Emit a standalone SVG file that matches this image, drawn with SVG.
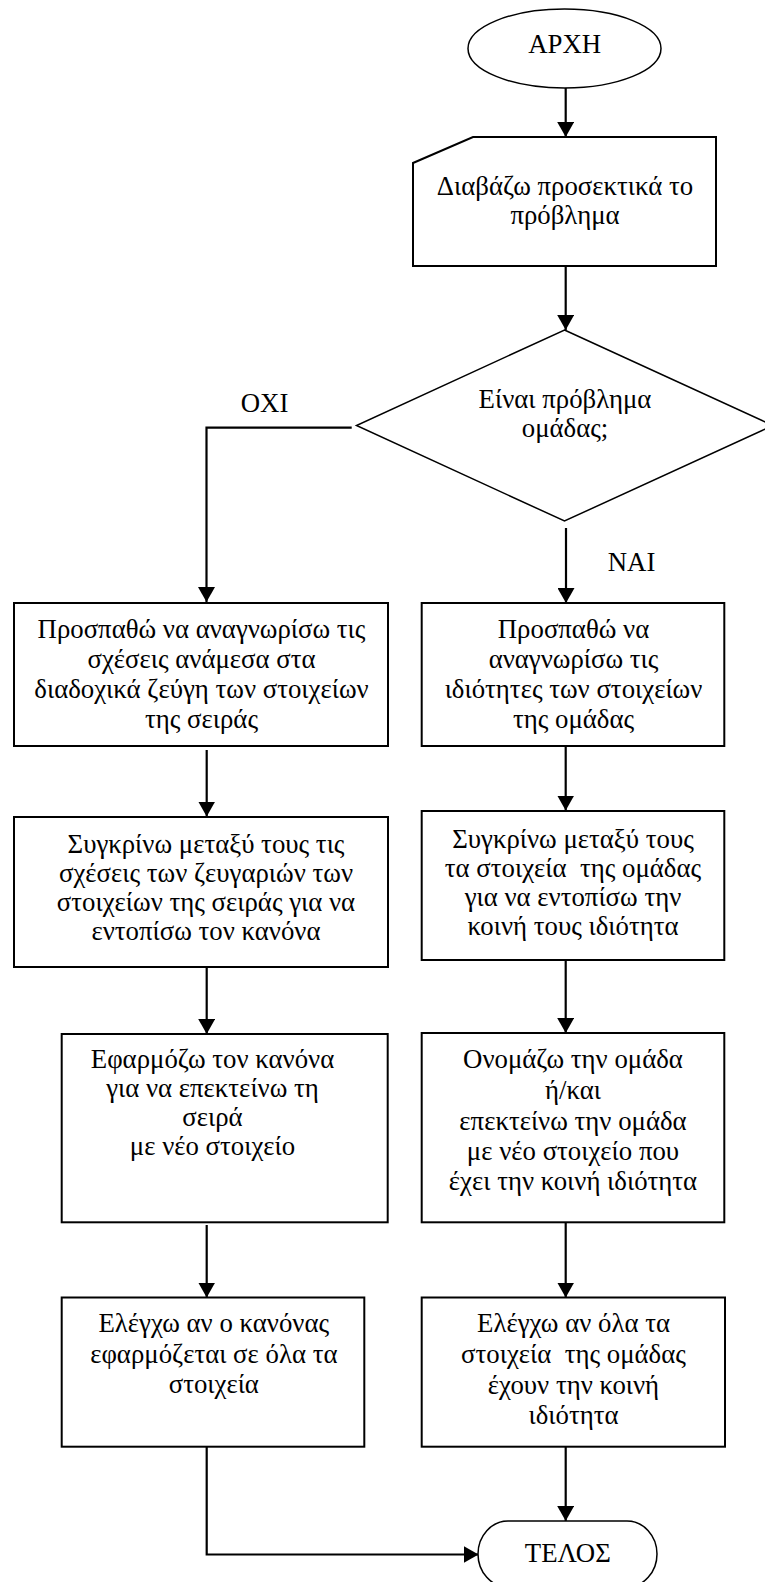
<svg xmlns="http://www.w3.org/2000/svg" width="765" height="1582" viewBox="0 0 765 1582">
  <style>
    .box { fill: #ffffff; stroke: #000000; stroke-width: 2; }
    .thin { fill: #ffffff; stroke: #000000; stroke-width: 1.5; }
    .wire { fill: none; stroke: #000000; stroke-width: 2.2; }
    .t { font-family: "Liberation Serif", "Times New Roman", serif; font-size: 26.8px; fill: #000000; text-anchor: middle; white-space: pre; }
  </style>
  <defs>
    <marker id="arrow" markerUnits="userSpaceOnUse" markerWidth="16" markerHeight="17" refX="15" refY="8.5" orient="auto">
      <path d="M0,0 L15,8.5 L0,17 Z" fill="#000000"/>
    </marker>
  </defs>

  <rect width="765" height="1582" fill="#ffffff"/>

  <!-- connectors -->
  <g id="connectors">
    <line class="wire" x1="565.7" y1="88" x2="565.7" y2="137" marker-end="url(#arrow)"/>
    <line class="wire" x1="565.7" y1="266" x2="565.7" y2="330" marker-end="url(#arrow)"/>
    <line class="wire" x1="566" y1="528" x2="566" y2="603" marker-end="url(#arrow)"/>
    <polyline class="wire" points="351.7,427.7 206.5,427.7 206.5,602" marker-end="url(#arrow)"/>
    <line class="wire" x1="206.7" y1="750" x2="206.7" y2="816.5" marker-end="url(#arrow)"/>
    <line class="wire" x1="565.7" y1="746" x2="565.7" y2="810.5" marker-end="url(#arrow)"/>
    <line class="wire" x1="206.7" y1="967" x2="206.7" y2="1034" marker-end="url(#arrow)"/>
    <line class="wire" x1="565.7" y1="960" x2="565.7" y2="1033" marker-end="url(#arrow)"/>
    <line class="wire" x1="206.7" y1="1225" x2="206.7" y2="1297.5" marker-end="url(#arrow)"/>
    <line class="wire" x1="565.7" y1="1222" x2="565.7" y2="1297.5" marker-end="url(#arrow)"/>
    <line class="wire" x1="565.7" y1="1447" x2="565.7" y2="1521" marker-end="url(#arrow)"/>
    <polyline class="wire" points="206.7,1444 206.7,1554.5 478.5,1554.5" marker-end="url(#arrow)"/>
    <text class="t" x="264.5" y="411.7">ΟΧΙ</text>
    <text class="t" x="631.5" y="570.7">ΝΑΙ</text>
  </g>

  <!-- start terminal -->
  <g id="start">
    <ellipse class="thin" cx="564.5" cy="48.5" rx="96.5" ry="39.5"/>
    <text class="t" x="564.7" y="53.3">ΑΡΧΗ</text>
  </g>

  <!-- manual input: read the problem -->
  <g id="read">
    <polygon class="box" points="473,137 716,137 716,266 413,266 413,163"/>
    <text class="t" x="565" y="195">Διαβάζω προσεκτικά το</text>
    <text class="t" x="565" y="223.5">πρόβλημα</text>
  </g>

  <!-- decision -->
  <g id="decision">
    <polygon class="thin" points="564.5,330 773,425.5 564.5,521 356.5,425.5"/>
    <text class="t" x="565" y="407.5">Είναι πρόβλημα</text>
    <text class="t" x="565" y="437">ομάδας;</text>
  </g>

  <!-- left branch: series -->
  <g id="series-relations">
    <rect class="box" x="14" y="603" width="374" height="143"/>
    <text class="t" x="201.5" y="637.5">Προσπαθώ να αναγνωρίσω τις</text>
    <text class="t" x="201.5" y="667.5">σχέσεις ανάμεσα στα</text>
    <text class="t" x="201.5" y="697.5">διαδοχικά ζεύγη των στοιχείων</text>
    <text class="t" x="201.5" y="727.5">της σειράς</text>
  </g>

  <g id="series-compare">
    <rect class="box" x="14" y="817" width="374" height="150"/>
    <text class="t" x="206" y="853">Συγκρίνω μεταξύ τους τις</text>
    <text class="t" x="206" y="882">σχέσεις των ζευγαριών των</text>
    <text class="t" x="206" y="911">στοιχείων της σειράς για να</text>
    <text class="t" x="206" y="940">εντοπίσω τον κανόνα</text>
  </g>

  <g id="series-extend">
    <rect class="box" x="61.7" y="1034" width="326" height="188.3"/>
    <text class="t" x="212.5" y="1068.3">Εφαρμόζω τον κανόνα</text>
    <text class="t" x="212.5" y="1097">για να επεκτείνω τη</text>
    <text class="t" x="212.5" y="1126">σειρά</text>
    <text class="t" x="212.5" y="1155">με νέο στοιχείο</text>
  </g>

  <g id="series-check">
    <rect class="box" x="61.7" y="1297.5" width="302.6" height="149.2"/>
    <text class="t" x="213.8" y="1331.7">Ελέγχω αν ο κανόνας</text>
    <text class="t" x="213.8" y="1362.5">εφαρμόζεται σε όλα τα</text>
    <text class="t" x="213.8" y="1393">στοιχεία</text>
  </g>

  <!-- right branch: group -->
  <g id="group-properties">
    <rect class="box" x="421.7" y="603" width="302.6" height="143"/>
    <text class="t" x="573.5" y="637.5">Προσπαθώ να</text>
    <text class="t" x="573.5" y="667.5">αναγνωρίσω τις</text>
    <text class="t" x="573.5" y="697.5">ιδιότητες των στοιχείων</text>
    <text class="t" x="573.5" y="727.5">της ομάδας</text>
  </g>

  <g id="group-compare">
    <rect class="box" x="421.7" y="811" width="302.6" height="149"/>
    <text class="t" x="573" y="848">Συγκρίνω μεταξύ τους</text>
    <text class="t" x="573" y="877" xml:space="preserve">τα στοιχεία  της ομάδας</text>
    <text class="t" x="573" y="906">για να εντοπίσω την</text>
    <text class="t" x="573" y="935">κοινή τους ιδιότητα</text>
  </g>

  <g id="group-name">
    <rect class="box" x="421.7" y="1033" width="302.6" height="189.3"/>
    <text class="t" x="573" y="1068.3">Ονομάζω την ομάδα</text>
    <text class="t" x="573" y="1098.5">ή/και</text>
    <text class="t" x="573" y="1129.5">επεκτείνω την ομάδα</text>
    <text class="t" x="573" y="1159.5">με νέο στοιχείο που</text>
    <text class="t" x="573" y="1189.5">έχει την κοινή ιδιότητα</text>
  </g>

  <g id="group-check">
    <rect class="box" x="421.7" y="1297.5" width="303.3" height="149.2"/>
    <text class="t" x="573.5" y="1331.7">Ελέγχω αν όλα τα</text>
    <text class="t" x="573.5" y="1362.5" xml:space="preserve">στοιχεία  της ομάδας</text>
    <text class="t" x="573.5" y="1393.5">έχουν την κοινή</text>
    <text class="t" x="573.5" y="1424">ιδιότητα</text>
  </g>

  <!-- end terminal -->
  <g id="end">
    <path class="thin" d="M508,1521 H627 A30,33 0 0 1 627,1587 H508 A30,33 0 0 1 508,1521 Z"/>
    <text class="t" x="567.8" y="1561.7">ΤΕΛΟΣ</text>
  </g>
</svg>
